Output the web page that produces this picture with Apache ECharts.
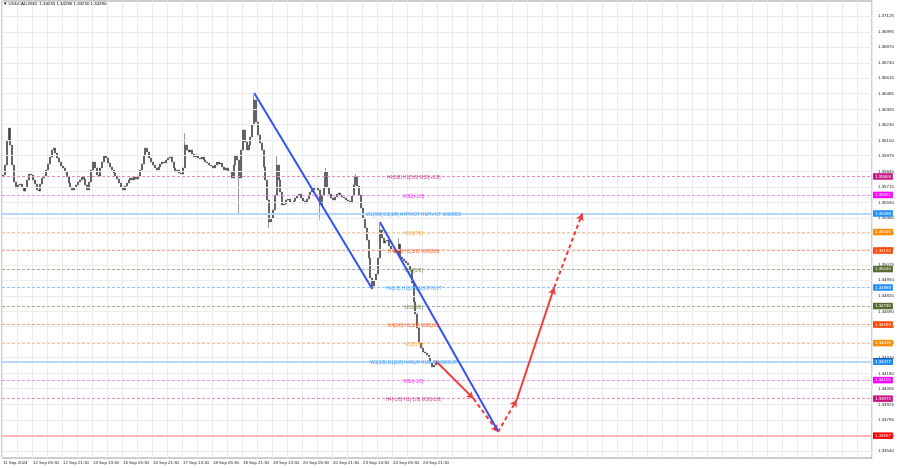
<!DOCTYPE html>
<html><head><meta charset="utf-8">
<script src="https://cdn.jsdelivr.net/npm/echarts@6/dist/echarts.min.js"></script>
<style>html,body{margin:0;padding:0;background:#fff}#c{width:900px;height:468px}</style>
</head><body><div id="c"></div>
<script>
const symbolName = 'USDCAD,M30';
const lastOHLC = ['1.34235', '1.34280', '1.34230', '1.34280'];
const tickLabels = ['11 Sep 2024','12 Sep 05:30','12 Sep 21:30','13 Sep 13:30','16 Sep 05:30','16 Sep 21:30','17 Sep 13:30','18 Sep 05:30','18 Sep 21:30','19 Sep 13:30','20 Sep 05:30','20 Sep 21:30','23 Sep 13:30','24 Sep 05:30','24 Sep 21:30'];
const yTicks = [1.37125,1.36995,1.36870,1.36740,1.36615,1.36485,1.36355,1.36230,1.36100,1.35975,1.35845,1.35715,1.35590,1.35460,1.35335,1.35205,1.35075,1.34950,1.34820,1.34690,1.34565,1.34435,1.34310,1.34180,1.34055,1.33925,1.33795,1.33670,1.33540];
const yMin = 1.33483, yMax = 1.37249;
const firstOpen = 1.35800;
const closes = [
1.35815,1.35897,1.36103,1.36202,1.36062,1.35897,1.35757,1.35708,1.35733,1.35741,
1.35708,1.35683,1.35708,1.35774,1.35823,1.35815,1.35774,1.35741,1.35691,1.35683,
1.35741,1.35790,1.35807,1.35856,1.35906,1.35963,1.36021,1.36037,1.35996,1.35955,
1.35922,1.35889,1.35873,1.35840,1.35799,1.35749,1.35716,1.35691,1.35708,1.35733,
1.35757,1.35774,1.35799,1.35782,1.35733,1.35691,1.35757,1.35856,1.35922,1.35873,
1.35815,1.35807,1.35873,1.35922,1.35972,1.35955,1.35914,1.35881,1.35856,1.35831,
1.35807,1.35782,1.35749,1.35716,1.35691,1.35724,1.35749,1.35774,1.35790,1.35774,
1.35799,1.35782,1.35807,1.35856,1.35906,1.35972,1.36037,1.36005,1.35955,1.35922,
1.35897,1.35873,1.35856,1.35881,1.35906,1.35922,1.35914,1.35939,1.35955,1.35963,
1.35922,1.35873,1.35840,1.35856,1.35831,1.35823,1.35873,1.36062,1.36021,1.36005,
1.36021,1.35988,1.35963,1.35980,1.35955,1.35947,1.35963,1.35939,1.35922,1.35914,
1.35897,1.35889,1.35873,1.35897,1.35922,1.35906,1.35914,1.35881,1.35856,1.35873,
1.35848,1.35840,1.35790,1.35897,1.35980,1.35939,1.35790,1.36021,1.36186,1.36087,
1.36021,1.36062,1.36128,1.36227,1.36433,1.36252,1.36145,1.36079,1.36021,1.35881,
1.35774,1.35609,1.35428,1.35461,1.35527,1.35650,1.35897,1.35774,1.35675,1.35568,
1.35576,1.35609,1.35617,1.35593,1.35584,1.35601,1.35625,1.35642,1.35658,1.35625,
1.35601,1.35584,1.35617,1.35650,1.35675,1.35691,1.35716,1.35708,1.35691,1.35568,
1.35650,1.35708,1.35840,1.35708,1.35658,1.35625,1.35609,1.35634,1.35658,1.35667,
1.35650,1.35634,1.35625,1.35609,1.35601,1.35584,1.35642,1.35733,1.35799,1.35724,
1.35650,1.35543,1.35461,1.35378,1.35279,1.35131,1.34966,1.34900,1.34950,1.34999,
1.35131,1.35362,1.35296,1.35255,1.35271,1.35279,1.35230,1.35205,1.35197,1.35180,
1.35172,1.35246,1.35139,1.35123,1.35106,1.35090,1.35073,1.35032,1.34925,1.34769,
1.34670,1.34554,1.34431,1.34389,1.34357,1.34348,1.34332,1.34307,1.34274,1.34233,
1.34249,1.34280];
const spikeIdx  = [97, 126, 134, 142, 146, 169, 172, 188, 197, 201, 211];
const spikeLow  = [null, 1.35485, null, 1.35378, null, 1.35444, null, null, 1.34884, null, null];
const spikeHigh = [1.36161, null, 1.36474, null, 1.35980, null, 1.35873, 1.35823, null, 1.35411, 1.35296];
const levelValues = [1.35803,1.35651,1.35498,1.35345,1.35193,1.35040,1.34888,1.34735,1.34583,1.34430,1.34277,1.34125,1.33972,1.33667];
const levelTexts = ['H4[5/8] H1[5/8] M30[+2/8]','M30[+1/8]','W1[3/8] D1[3/8] H4PIVOT H1PIVOT M30RES','M30[7/8]','H4[3/8] H1[3/8] M30[6/8]','M30[5/8]','H4[2/8] H1[2/8] M30PIVOT','M30[3/8]','H4[1/8] H1[1/8] M30[2/8]','M30[1/8]','W1[2/8] D1[2/8] H4SUP H1SUP M30SUP','M30[-1/8]','H4[-1/8] H1[-1/8] M30[-2/8]',''];
const bidPrice = 1.34280;
const trend1 = [[134, 1.36490], [197, 1.34876]];
const trend2 = [[201, 1.35428], [264, 1.33706]];
const forecast = [[231, 1.34280], [251, 1.33972], [264, 1.33697], [274, 1.33961], [294, 1.34888], [309, 1.35498]];
const forecastDashed = [false, true, true, false, true];
const totalBars = 464;
const labelBar = 219;

// styles
const FONT = 'Liberation Sans';
const FS = 4.4;
const levelStyles = [
  {line:'#e98abc', bg:'#c71585', text:'#c71585', type:[3,2], w:1},
  {line:'#ff8cff', bg:'#ff00ff', text:'#ff00ff', type:[3,2], w:1},
  {line:'#b8d8f8', bg:'#1e90ff', text:'#1e90ff', type:'solid', w:2},
  {line:'#fbc894', bg:'#ff8c00', text:'#f39a1e', type:[3,2], w:1},
  {line:'#ffa088', bg:'#ff4500', text:'#ff4500', type:[3,2], w:1},
  {line:'#a7ae90', bg:'#556b2f', text:'#5d6e35', type:[3,2], w:1},
  {line:'#90c4f7', bg:'#1e90ff', text:'#1e90ff', type:[3,2], w:1},
  {line:'#a7ae90', bg:'#556b2f', text:'#5d6e35', type:[3,2], w:1},
  {line:'#ffa088', bg:'#ff4500', text:'#ff4500', type:[3,2], w:1},
  {line:'#fbc894', bg:'#ff8c00', text:'#f39a1e', type:[3,2], w:1},
  {line:'#b8d8f8', bg:'#1e90ff', text:'#1e90ff', type:'solid', w:2},
  {line:'#ff8cff', bg:'#ff00ff', text:'#ff00ff', type:[3,2], w:1},
  {line:'#e98abc', bg:'#c71585', text:'#c71585', type:[3,2], w:1},
  {line:'#ffb8b8', bg:'#ff0000', text:'#ff0000', type:'solid', w:2}
];

const cats = Array.from({length: totalBars}, (_, i) => String(i));
const ohlc = closes.map((c, i) => {
  const o = i === 0 ? firstOpen : closes[i - 1];
  return [o, c, Math.min(o, c), Math.max(o, c)];
});
spikeIdx.forEach((k, j) => {
  if (spikeLow[j] != null) ohlc[k][2] = spikeLow[j];
  if (spikeHigh[j] != null) ohlc[k][3] = spikeHigh[j];
});

const priceLabel = (bg) => ({
  show: true, position: 'end', distance: 1, formatter: (p) => Number(p.value).toFixed(5),
  backgroundColor: bg, color: '#fff', fontSize: FS, fontFamily: FONT,
  padding: [1, 2, 0.5, 2], lineHeight: 5
});

const levelLines = [{
  yAxis: bidPrice, lineStyle: {color: 'rgba(0,0,0,0)', width: 0},
  label: priceLabel('#000')
}].concat(levelValues.map((v, i) => ({
  yAxis: v,
  lineStyle: {color: levelStyles[i].line, type: levelStyles[i].type, width: levelStyles[i].w},
  label: priceLabel(levelStyles[i].bg)
})));

const forecastSegs = [];
for (let i = 0; i < forecast.length - 1; i++) {
  const ls = {color: '#f23a3a', width: 2, type: forecastDashed[i] ? [4, 3] : 'solid'};
  forecastSegs.push([{coord: forecast[i], lineStyle: ls}, {coord: forecast[i + 1], lineStyle: ls}]);
}

const chart = echarts.init(document.getElementById('c'), null, {renderer: 'canvas'});
chart.setOption({
  animation: false,
  backgroundColor: '#fff',
  textStyle: {fontFamily: FONT},
  grid: {left: 2, right: 28, top: 1, bottom: 10, show: true, borderColor: '#9c9c9c', borderWidth: 1, backgroundColor: '#fff', containLabel: false, outerBoundsMode: 'none'},
  graphic: [{
    type: 'text', left: 3, top: 2, z: 100,
    style: {text: '\u25BC ' + symbolName + '  ' + lastOHLC.join(' '), fontSize: FS, fontFamily: FONT, fill: '#000'}
  }],
  xAxis: {
    type: 'category', data: cats, boundaryGap: true,
    axisLine: {show: false}, axisTick: {show: false},
    axisLabel: {
      interval: (i) => i % 16 === 0 && i / 16 < tickLabels.length,
      formatter: (v, i) => tickLabels[Math.round(i / 16)] || '',
      align: 'left', fontSize: FS, margin: 3, color: '#222', fontFamily: FONT
    },
    splitLine: {show: true, interval: (i) => i % 8 === 0, lineStyle: {color: '#ececec', width: 1}}
  },
  yAxis: {
    type: 'value', position: 'right', min: yMin, max: yMax, scale: true,
    axisLine: {show: false}, axisTick: {show: false}, splitLine: {show: false},
    axisLabel: {customValues: yTicks, formatter: (v) => v.toFixed(5), fontSize: FS, color: '#222', margin: 6, fontFamily: FONT}
  },
  series: [
    {
      type: 'line', data: [], z: 1, silent: true,
      markLine: {silent: true, symbol: 'none', animation: false, precision: 5, label: {show: false},
        lineStyle: {color: '#ececec', width: 1, type: 'solid'},
        data: yTicks.map(v => ({yAxis: v}))}
    },
    {
      type: 'line', data: [], z: 2, silent: true,
      markLine: {silent: true, symbol: 'none', animation: false, precision: 5, data: levelLines}
    },
    {
      type: 'candlestick', data: ohlc, z: 3, barWidth: 1.5, silent: true,
      itemStyle: {color: '#2e2e2e', color0: '#2e2e2e', borderColor: '#353535', borderColor0: '#353535', borderWidth: 0.5}
    },
    {
      type: 'scatter', z: 7, symbolSize: 0, silent: true,
      itemStyle: {color: 'rgba(0,0,0,0)'},
      data: levelValues.map((v, i) => ({value: [labelBar, v], name: levelTexts[i], label: {color: levelStyles[i].text}})),
      label: {show: true, position: 'inside', offset: [0, 1.5], formatter: '{b}', fontSize: 4.7, fontFamily: FONT,
        textBorderWidth: 0, textBorderColor: 'transparent', textShadowBlur: 0}
    },
    {type: 'line', data: trend1, z: 5, symbol: 'none', silent: true, lineStyle: {color: '#3352f5', width: 2}},
    {type: 'line', data: trend2, z: 5, symbol: 'none', silent: true, lineStyle: {color: '#3352f5', width: 2}},
    {
      type: 'line', data: [], z: 6, silent: true,
      markLine: {silent: true, symbol: ['none', 'arrow'], symbolSize: [6, 7], animation: false, precision: 5, label: {show: false}, data: forecastSegs}
    }
  ]
});
</script></body></html>
